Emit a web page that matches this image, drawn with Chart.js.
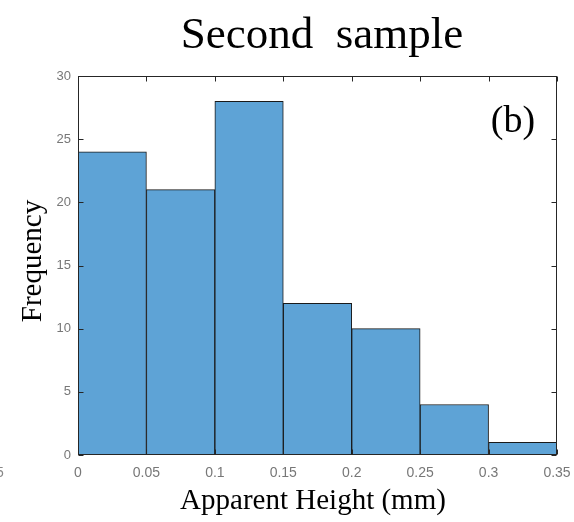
<!DOCTYPE html>
<html>
<head>
<meta charset="utf-8">
<script src="https://cdn.jsdelivr.net/npm/chart.js@4.4.1/dist/chart.umd.min.js"></script>
<style>
body { margin: 0; background: #fff; }
#wrap { width: 574px; height: 522px; }
</style>
</head>
<body>
<div id="wrap"><canvas id="histChart" width="574" height="522"></canvas></div>
<script>
// histogram bins (left edges) and counts
var binStart = [0, 0.05, 0.1, 0.15, 0.2, 0.25, 0.3];
var binWidth = 0.05;
var counts = [24, 21, 28, 12, 10, 4, 1];
var xTicks = [0, 0.05, 0.1, 0.15, 0.2, 0.25, 0.3, 0.35];
var yTicks = [0, 5, 10, 15, 20, 25, 30];
var chartTitle = 'Second  sample';
var xTitle = 'Apparent Height (mm)';
var yTitle = 'Frequency';
var panelTag = '(b)';

var serif = '"Liberation Serif", "Times New Roman", serif';
var sans = '"Liberation Sans", Arial, sans-serif';

// MATLAB style box + inward ticks + text
var framePlugin = {
    id: 'frame',
    afterDatasetsDraw: function (chart) {
        var ctx = chart.ctx, a = chart.chartArea;
        var xs = chart.scales.x, ys = chart.scales.y;
        var L = Math.round(a.left) + 0.5, R = Math.round(a.right) - 0.5;
        var T = Math.round(a.top) + 0.5, B = Math.round(a.bottom) - 0.5;
        var tl = 5;
        ctx.save();
        ctx.strokeStyle = '#262626';
        ctx.lineWidth = 1;
        ctx.strokeRect(L, T, R - L, B - T);
        ctx.beginPath();
        xTicks.forEach(function (v) {
            var px = Math.round(xs.getPixelForValue(v)) + 0.5;
            ctx.moveTo(px, B); ctx.lineTo(px, B - tl);
            ctx.moveTo(px, T); ctx.lineTo(px, T + tl);
        });
        yTicks.forEach(function (v) {
            var py = Math.round(ys.getPixelForValue(v)) + 0.5;
            ctx.moveTo(L, py); ctx.lineTo(L + tl, py);
            ctx.moveTo(R, py); ctx.lineTo(R - tl, py);
        });
        ctx.stroke();
        ctx.restore();
    },
    afterDraw: function (chart) {
        var ctx = chart.ctx;
        ctx.save();
        ctx.fillStyle = '#000';
        ctx.textAlign = 'center';
        ctx.textBaseline = 'alphabetic';
        ctx.font = '45px ' + serif;
        ctx.fillText(chartTitle, 322, 48);
        ctx.font = '29px ' + serif;
        ctx.fillText(xTitle, 313, 509);
        ctx.font = '38px ' + serif;
        ctx.fillText(panelTag, 513, 132);
        ctx.translate(41, 261);
        ctx.rotate(-Math.PI / 2);
        ctx.font = '29px ' + serif;
        ctx.fillText(yTitle, 0, 0);
        ctx.restore();
        // cut-off label from the neighbouring panel
        ctx.save();
        ctx.fillStyle = '#888';
        ctx.font = '14px ' + sans;
        ctx.textAlign = 'left';
        ctx.textBaseline = 'middle';
        ctx.fillText('5', -4, 473);
        ctx.restore();
    }
};

var ctx = document.getElementById('histChart').getContext('2d');
var histChart = new Chart(ctx, {
    type: 'bar',
    plugins: [framePlugin],
    data: {
        datasets: [{
            data: binStart.map(function (s, i) { return { x: s + binWidth / 2, y: counts[i] }; }),
            backgroundColor: 'rgb(94, 163, 214)',
            borderColor: '#1a1a1a',
            borderWidth: 1,
            barPercentage: 1,
            categoryPercentage: 1
        }]
    },
    options: {
        responsive: false,
        animation: false,
        layout: { padding: { left: 0, right: 17, top: 76, bottom: 0 } },
        plugins: {
            legend: { display: false },
            tooltip: { enabled: false }
        },
        scales: {
            x: {
                type: 'linear',
                min: 0,
                max: 0.35,
                offset: false,
                grid: { display: false, drawTicks: false },
                border: { display: false },
                afterBuildTicks: function (scale) {
                    scale.ticks = xTicks.map(function (v) { return { value: v }; });
                },
                afterFit: function (scale) {
                    scale.height = 67;
                    scale.paddingLeft = 0;
                    scale.paddingRight = 0;
                },
                ticks: {
                    padding: 10,
                    color: '#777',
                    maxRotation: 0,
                    autoSkip: false,
                    font: { family: sans, size: 14 },
                    callback: function (v) { return String(+v.toFixed(2)); }
                }
            },
            y: {
                min: 0,
                max: 30,
                grid: { display: false, drawTicks: false },
                border: { display: false },
                afterBuildTicks: function (scale) {
                    scale.ticks = yTicks.map(function (v) { return { value: v }; });
                },
                afterFit: function (scale) {
                    scale.width = 78;
                    scale.paddingTop = 0;
                    scale.paddingBottom = 0;
                },
                ticks: {
                    padding: 7,
                    color: '#777',
                    font: { family: sans, size: 13 }
                }
            }
        }
    }
});
</script>
</body>
</html>
